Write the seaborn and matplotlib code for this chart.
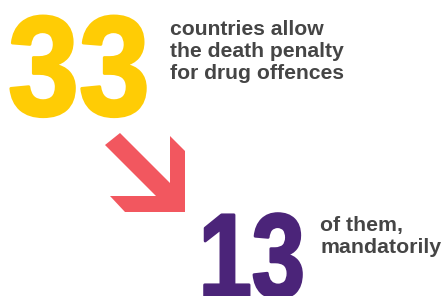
import matplotlib.pyplot as plt
import seaborn as sb
from matplotlib.patches import Polygon
from matplotlib.patheffects import AbstractPathEffect
from matplotlib.transforms import Affine2D

# figures shown in the graphic
numbers = ['33', '13']
captions = ['countries allow\nthe death penalty\nfor drug offences', 'of them,\nmandatorily']
colours = ['#FFCC05', '#4B2479']
arrow_colour = '#F2575F'
text_colour = '#454545'


# squeeze glyphs horizontally round the text anchor -- no condensed font installed
class Squeeze(AbstractPathEffect):
    def __init__(self, anchor, sx = 1.0, lw = 0):
        super().__init__()
        self.anchor = anchor
        self.sx = sx
        self.lw = lw

    def draw_path(self, renderer, gc, tpath, affine, rgbFace = None):
        x0, y0 = self.anchor
        squeeze = Affine2D().translate(-x0, -y0).scale(self.sx, 1).translate(x0, y0)
        gc0 = renderer.new_gc()
        gc0.copy_properties(gc)
        if self.lw:
            gc0.set_linewidth(self.lw)
            gc0.set_foreground(rgbFace)
        renderer.draw_path(gc0, tpath, affine + squeeze, rgbFace)
        gc0.restore()


sb.set_theme(style = 'white')
plt.rcParams['font.family'] = ['Liberation Sans', 'DejaVu Sans']

fig = plt.figure(figsize = (4.42, 2.96), dpi = 100)
ax = fig.add_axes([0, 0, 1, 1])
ax.set_xlim(0, 442)
ax.set_ylim(296, 0)
ax.axis('off')

# big numbers
pos33 = (8, 115)
t = ax.text(*pos33, numbers[0], fontsize = 102, fontweight = 'bold', color = colours[0],
            ha = 'left', va = 'baseline')
t.set_path_effects([Squeeze(ax.transData.transform(pos33), sx = 0.9, lw = 2.2)])

pos13 = (305, 297)
t = ax.text(*pos13, numbers[1], fontsize = 86, fontweight = 'bold', color = colours[1],
            ha = 'right', va = 'baseline')
t.set_path_effects([Squeeze(ax.transData.transform(pos13), sx = 0.8, lw = 2)])

# captions (baseline given for the last line)
ax.text(170, 79, captions[0], fontsize = 15.2, fontweight = 'bold', color = text_colour,
        ha = 'left', va = 'baseline', linespacing = 1.2)
ax.text(320, 253, captions[1], fontsize = 15.3, fontweight = 'bold', color = text_colour,
        ha = 'left', va = 'baseline', linespacing = 1.2)

# arrow pointing from the first number to the second
arrow = [(120, 133), (170, 183), (170, 136), (185, 151), (185, 212),
         (125, 212), (110, 196), (156, 196), (105, 145)]
ax.add_patch(Polygon(arrow, closed = True, color = arrow_colour, lw = 0))

plt.savefig('out.png', dpi = 100)
